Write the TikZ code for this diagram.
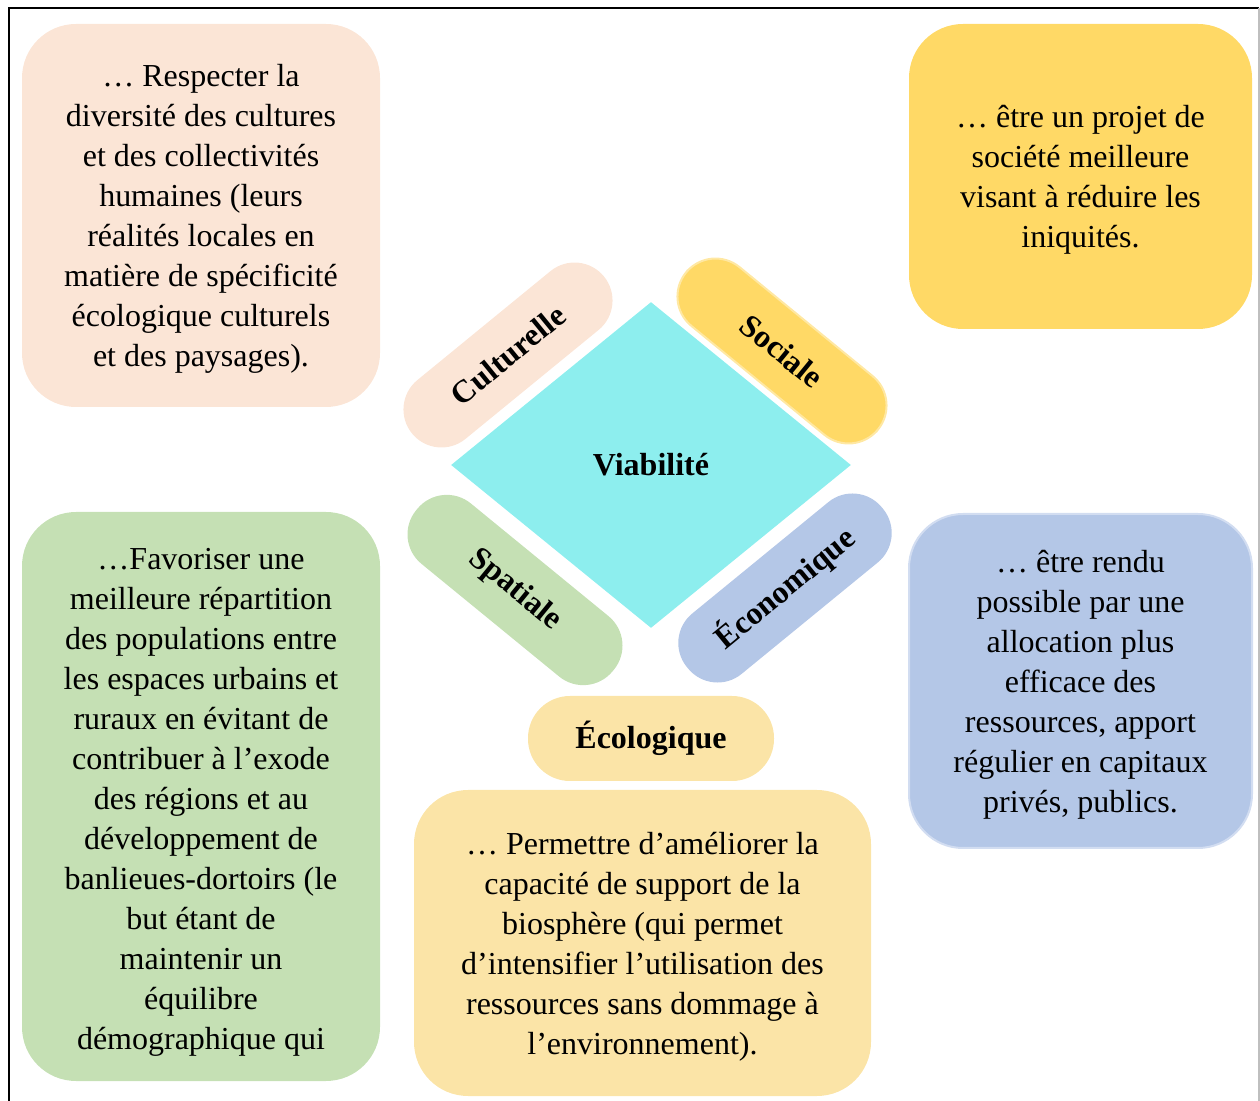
\documentclass[tikz,border=0pt]{standalone}
\usepackage{fontspec}
\setmainfont{Liberation Serif}
\usetikzlibrary{shapes.geometric}
\definecolor{VIAcyan}{HTML}{8DEEEE}
\definecolor{VIApink}{HTML}{FBE5D6}
\definecolor{VIAgold}{HTML}{FFD966}
\definecolor{VIAsand}{HTML}{FBE4A7}
\definecolor{VIAgreen}{HTML}{C5E0B4}
\definecolor{VIAblue}{HTML}{B4C7E7}
\tikzset{
  infobox/.style={rectangle,rounded corners=27pt,inner sep=0pt},
  boxtext/.style={inner sep=0pt,align=center,font=\fontsize{16}{20}\selectfont},
  pill/.style={rectangle,rounded corners=19pt,minimum width=124pt,minimum height=38pt,
    inner sep=0pt,font=\fontsize{16}{20}\selectfont\bfseries}
}

\begin{document}
\begin{tikzpicture}[x=0.5pt,y=-0.5pt]
  \useasboundingbox (0,0) rectangle (1260,1101);
  \draw[line width=1pt] (9,1101) -- (9,8) -- (1259,8);
  \draw[line width=0.6pt,black!25] (1259,8) -- (1259,1101);

  \node[diamond,fill=VIAcyan,minimum width=200pt,minimum height=163pt,inner sep=0pt,
    font=\fontsize{16}{20}\selectfont\bfseries] (viab) at (651,465) {Viabilité};

  \node[pill,fill=VIApink,rotate=39.3] (cult) at (508,355) {Culturelle};
  \node[pill,fill=VIAgold,draw=VIAgold!60,line width=1pt,rotate=-39.3] (soc) at (782,351) {Sociale};
  \node[pill,fill=VIAgreen,minimum width=127pt,minimum height=39pt,rotate=-39.3] (spat) at (515,590) {Spatiale};
  \node[pill,fill=VIAblue,minimum width=126pt,minimum height=39pt,rotate=39.3] (econ) at (785,588) {Économique};
  \node[pill,fill=VIAsand,minimum width=123pt,minimum height=42.5pt,rounded corners=21pt] (ecol) at (651,738.5) {Écologique};

  \node[infobox,fill=VIApink,minimum width=179pt,minimum height=191.5pt] (cultbox) at (201,215.5) {};
  \node[boxtext] (culttext) at ([yshift=-1.5pt]cultbox.center)
    {… Respecter la\\diversité des cultures\\et des collectivités\\humaines (leurs\\réalités locales en\\matière de spécificité\\écologique culturels\\et des paysages).};
  \node[infobox,fill=VIAgold,minimum width=171.5pt,minimum height=152.5pt] (socbox) at (1080.5,176.5) {};
  \node[boxtext] (soctext) at ([yshift=-1.5pt]socbox.center)
    {… être un projet de\\société meilleure\\visant à réduire les\\iniquités.};
  \node[infobox,fill=VIAgreen,minimum width=179pt,minimum height=284.5pt] (spatbox) at (201,796.5) {};
  \node[boxtext] (spattext) at ([yshift=-3pt]spatbox.center)
    {…Favoriser une\\meilleure répartition\\des populations entre\\les espaces urbains et\\ruraux en évitant de\\contribuer à l’exode\\des régions et au\\développement de\\banlieues-dortoirs (le\\but étant de\\maintenir un\\équilibre\\démographique qui};
  \node[infobox,fill=VIAblue,draw=VIAblue!60,line width=1pt,minimum width=171.5pt,minimum height=167pt] (econbox) at (1080.5,681) {};
  \node[boxtext] (econtext) at ([yshift=-2pt]econbox.center)
    {… être rendu\\possible par une\\allocation plus\\efficace des\\ressources, apport\\régulier en capitaux\\privés, publics.};
  \node[infobox,fill=VIAsand,minimum width=228.5pt,minimum height=153pt] (ecolbox) at (642.5,943) {};
  \node[boxtext] (ecoltext) at ([yshift=-2pt]ecolbox.center)
    {… Permettre d’améliorer la\\capacité de support de la\\biosphère (qui permet\\d’intensifier l’utilisation des\\ressources sans dommage à\\l’environnement).};
\end{tikzpicture}
\end{document}
